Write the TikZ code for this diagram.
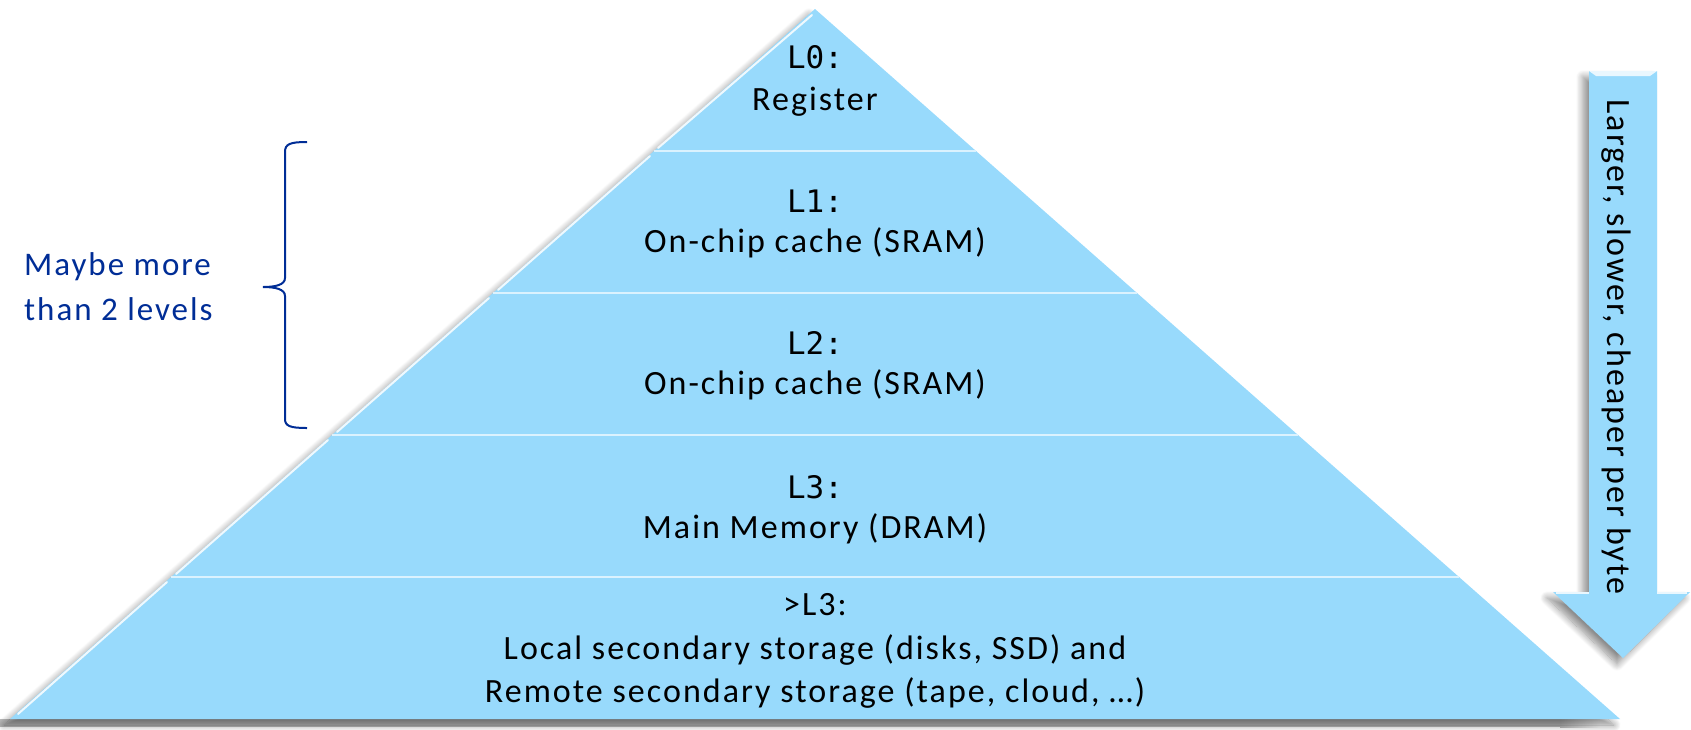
\documentclass[tikz,border=0pt]{standalone}
\usepackage{fontspec}
\setmainfont{Carlito}[LetterSpace=6]
\newfontfamily\monofont{DejaVu Sans Mono}
\usetikzlibrary{shadows.blur}
\definecolor{pyr}{RGB}{152,218,252}
\definecolor{bracec}{RGB}{0,45,150}
\tikzset{
  txt/.style={font=\fontsize{34}{43}\selectfont, text=black, inner sep=0pt, anchor=base},
  mono/.style={font=\monofont\fontsize{31}{40}\selectfont, text=black, inner sep=0pt, anchor=base},
  sep/.style={draw=white!65!pyr, line width=1.6pt},
  hl/.style={draw=white, line width=2pt, opacity=0.85, line cap=round},
  shd/.style={blur shadow={shadow xshift=-6pt, shadow yshift=-6pt, shadow blur radius=7pt, shadow blur steps=12, shadow opacity=45}},
}
\begin{document}
\begin{tikzpicture}[x=1pt,y=-1pt]
\useasboundingbox (0,0) rectangle (1691,729);
% bottom gray band
\fill[black!27] (0,719) rectangle (1560,727);
\shade[left color=black!27, right color=white] (1560,719) rectangle (1600,727);
% pyramid
\fill[pyr, shd] (815,9) -- (1620,719) -- (10,719) -- cycle;
% separators
\draw[sep] (654,151) -- (976,151);
\draw[sep] (493,293) -- (1137,293);
\draw[sep] (332,435) -- (1298,435);
\draw[sep] (171,577) -- (1459,577);
% left bevel highlights
\draw[hl] (812,15) -- (658,148);
\draw[hl] (650,156) -- (498,290);
\draw[hl] (489,298) -- (337,432);
\draw[hl] (328,440) -- (176,574);
\draw[hl] (167,582) -- (18,714);
% texts
\node[mono] (l0a) at (815,68) {L0:};
\node[txt] (l0b) at (815,110) {Register};
\node[mono] (l1a) at (815,212) {L1:};
\node[txt] (l1b) at (815,252) {On-chip cache (SRAM)};
\node[mono] (l2a) at (815,354) {L2:};
\node[txt] (l2b) at (815,394) {On-chip cache (SRAM)};
\node[mono] (l3a) at (815,498) {L3:};
\node[txt] (l3b) at (815,538) {Main Memory (DRAM)};
\node[txt] (l4a) at (815,615) {>L3:};
\node[txt] (l4b) at (815,659) {Local secondary storage (disks, SSD) and};
\node[txt] (l4c) at (815,702) {Remote secondary storage (tape, cloud, \dots)};
% arrow
\fill[pyr, shd] (1589,71) -- (1657,71) -- (1657,592) -- (1690,592) -- (1623,658) -- (1553,592) -- (1589,592) -- cycle;
\draw[white, line width=1.5pt, opacity=0.8] (1556,593) -- (1589,593) (1657,593) -- (1687,593);
\fill[white, opacity=0.8] (1589,71) -- (1657,71) -- (1650,76) -- (1596,76) -- cycle;
\node[txt, rotate=-90] (arrowtxt) at (1607,347) {Larger, slower, cheaper per byte};
% brace
\draw[bracec, line width=2pt] (307,142) .. controls (290,142) and (285,144) .. (285,152)
  -- (285,278) .. controls (285,285) and (275,287) .. (263,287)
  .. controls (275,287) and (285,289) .. (285,296)
  -- (285,419) .. controls (285,426) and (290,428) .. (307,428);
\node[txt, text=bracec, anchor=base west, font=\fontsize{33}{45}\selectfont] (maybe1) at (24,275) {Maybe more};
\node[txt, text=bracec, anchor=base west, font=\fontsize{33}{45}\selectfont] (maybe2) at (24,320) {than 2 levels};
\end{tikzpicture}
\end{document}
